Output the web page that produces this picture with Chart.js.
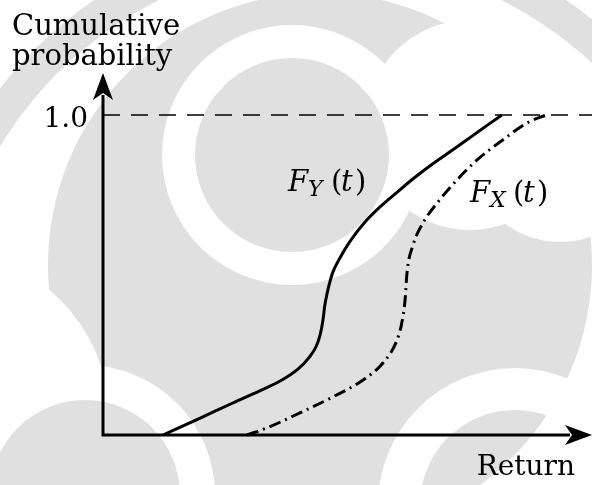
<!DOCTYPE html>
<html>
<head>
<meta charset="utf-8">
<script src="https://cdn.jsdelivr.net/npm/chart.js@4.4.1/dist/chart.umd.min.js"></script>
<style>
  html, body { margin: 0; padding: 0; background: #fff; }
  #cdfChart { display: block; }
</style>
</head>
<body>
<canvas id="cdfChart" width="592" height="485"></canvas>
<script>
// Return values (arbitrary 0-10 scale) and cumulative probabilities
const returnY = [1.27, 2.06, 2.75, 3.32, 3.79, 4.13, 4.36, 4.51, 4.60, 4.66, 4.70, 4.75, 4.79, 4.87, 5.02, 5.17, 5.36, 5.57, 5.87, 6.21, 6.59, 7.01, 7.42, 7.82, 8.16, 8.45];
const probY   = [0, 0.053, 0.100, 0.138, 0.172, 0.206, 0.241, 0.275, 0.313, 0.359, 0.406, 0.444, 0.469, 0.509, 0.553, 0.591, 0.631, 0.669, 0.713, 0.756, 0.803, 0.850, 0.892, 0.934, 0.970, 1.0];

const returnX = [3.05, 3.47, 4.17, 4.87, 5.51, 5.93, 6.23, 6.33, 6.40, 6.44, 6.57, 6.78, 7.08, 7.50, 7.92, 8.47, 8.98, 9.39];
const probX   = [0, 0.022, 0.069, 0.119, 0.172, 0.225, 0.297, 0.350, 0.422, 0.506, 0.594, 0.663, 0.725, 0.797, 0.859, 0.922, 0.975, 1.0];

// dashed reference level at probability 1.0, running to the right edge
const levelReturn = [0, 10.36];
const levelProb = [1.0, 1.0];

const yTicks = [1.0];
const yTickLabels = ['1.0'];
const yTitle = ['Cumulative', 'probability'];
const xTitle = 'Return';

const SERIF = '"DejaVu Serif", "Liberation Serif", serif';

function toPoints(xs, ys) {
    return xs.map((v, i) => ({ x: v, y: ys[i] }));
}

// grey watermark behind the drawing
const watermark = {
    id: 'watermark',
    beforeDraw(chart) {
        const ctx = chart.ctx;
        const g = '#e0e0e0';
        const w = '#ffffff';
        const disc = (x, y, r, c) => {
            ctx.fillStyle = c;
            ctx.beginPath();
            ctx.arc(x, y, r, 0, Math.PI * 2);
            ctx.fill();
        };
        const ring = (x, y, r1, r2, c) => {
            ctx.fillStyle = c;
            ctx.beginPath();
            ctx.arc(x, y, r2, 0, Math.PI * 2);
            ctx.arc(x, y, r1, 0, Math.PI * 2, true);
            ctx.fill();
        };
        ctx.save();
        ctx.fillStyle = w;
        ctx.fillRect(0, 0, chart.width, chart.height);
        ring(330, 345, 385, 418, g);
        disc(320, 265, 272, g);
        disc(-60, 420, 170, w);
        disc(85, 495, 130, w);
        disc(85, 495, 95, g);
        disc(470, 125, 105, w);
        disc(560, 150, 92, w);
        disc(292, 155, 130, w);
        disc(292, 155, 97, g);
        ring(515, 505, 95, 137, w);
        ctx.restore();
    }
};

function stealth(ctx, tx, ty, dx, dy) {
    const len = 27, half = 10, notch = 7;
    const px = -dy, py = dx;
    ctx.beginPath();
    ctx.moveTo(tx, ty);
    ctx.lineTo(tx - dx * len + px * half, ty - dy * len + py * half);
    ctx.lineTo(tx - dx * (len - notch), ty - dy * (len - notch));
    ctx.lineTo(tx - dx * len - px * half, ty - dy * len - py * half);
    ctx.closePath();
    ctx.fill();
}

// axes with arrow heads
const axesArrows = {
    id: 'axesArrows',
    afterDatasetsDraw(chart) {
        const { ctx, scales: { x, y } } = chart;
        const x0 = x.getPixelForValue(0);
        const y0 = y.getPixelForValue(0);
        const tipY = y.getPixelForValue(1) - 42;
        const tipX = chart.width;
        ctx.save();
        ctx.strokeStyle = '#000';
        ctx.fillStyle = '#000';
        ctx.lineWidth = 3;
        ctx.lineJoin = 'miter';
        ctx.beginPath();
        ctx.moveTo(x0, tipY + 22);
        ctx.lineTo(x0, y0);
        ctx.lineTo(tipX - 22, y0);
        ctx.stroke();
        stealth(ctx, x0, tipY, 0, -1);
        stealth(ctx, tipX, y0, 1, 0);
        ctx.restore();
    }
};

// F_sub(t) written piece by piece, italic letters and upright brackets
function mathLabel(ctx, x, y, sub) {
    const it = 'italic 29px ' + SERIF;
    const up = '29px ' + SERIF;
    ctx.font = it;
    ctx.fillText('F', x, y);
    ctx.font = 'italic 22px ' + SERIF;
    ctx.fillText(sub, x + 20, y + 5);
    ctx.font = up;
    ctx.fillText('(', x + 43, y);
    ctx.font = it;
    ctx.fillText('t', x + 53, y);
    ctx.font = up;
    ctx.fillText(')', x + 67, y);
}

const curveLabels = {
    id: 'curveLabels',
    afterDraw(chart) {
        const ctx = chart.ctx;
        ctx.save();
        ctx.fillStyle = '#000';
        ctx.textBaseline = 'alphabetic';
        ctx.textAlign = 'left';
        mathLabel(ctx, 288, 191, 'Y');
        mathLabel(ctx, 470, 202, 'X');
        ctx.restore();
    }
};

const ctx = document.getElementById('cdfChart').getContext('2d');
new Chart(ctx, {
    type: 'line',
    data: {
        datasets: [
            {
                label: 'F_Y(t)',
                data: toPoints(returnY, probY),
                borderColor: '#000',
                borderWidth: 3,
                pointRadius: 0,
                cubicInterpolationMode: 'monotone',
                fill: false,
                clip: false
            },
            {
                label: 'F_X(t)',
                data: toPoints(returnX, probX),
                borderColor: '#000',
                borderWidth: 3,
                borderDash: [12, 5, 2, 5],
                pointRadius: 0,
                cubicInterpolationMode: 'monotone',
                fill: false,
                clip: false
            },
            {
                label: 'level',
                data: toPoints(levelReturn, levelProb),
                borderColor: '#000',
                borderWidth: 1.6,
                borderDash: [17, 11],
                pointRadius: 0,
                fill: false,
                clip: false
            }
        ]
    },
    options: {
        responsive: false,
        animation: false,
        layout: { padding: { left: 12, right: 17, top: 0, bottom: 0 } },
        plugins: {
            legend: { display: false },
            tooltip: { enabled: false },
            title: {
                display: true,
                text: yTitle,
                align: 'start',
                color: '#000',
                font: { family: SERIF, size: 29, weight: 'normal', lineHeight: 30 / 29 },
                padding: { top: 12, bottom: 43 }
            }
        },
        scales: {
            x: {
                type: 'linear',
                min: 0,
                max: 10,
                grid: { display: false, drawTicks: false },
                border: { display: false },
                ticks: { display: false },
                title: {
                    display: true,
                    text: xTitle,
                    align: 'end',
                    color: '#000',
                    font: { family: SERIF, size: 28, lineHeight: 1 },
                    padding: { top: 0, bottom: 3 }
                },
                afterFit(scale) { scale.height = 50; }
            },
            y: {
                type: 'linear',
                min: 0,
                max: 1,
                grid: { display: false, drawTicks: false },
                border: { display: false },
                afterBuildTicks(scale) { scale.ticks = yTicks.map(v => ({ value: v })); },
                ticks: {
                    padding: 15,
                    labelOffset: 5,
                    color: '#000',
                    font: { family: SERIF, size: 28 },
                    callback: (value, index) => yTickLabels[index]
                },
                afterFit(scale) { scale.width = 91; }
            }
        }
    },
    plugins: [watermark, axesArrows, curveLabels]
});
</script>
</body>
</html>
